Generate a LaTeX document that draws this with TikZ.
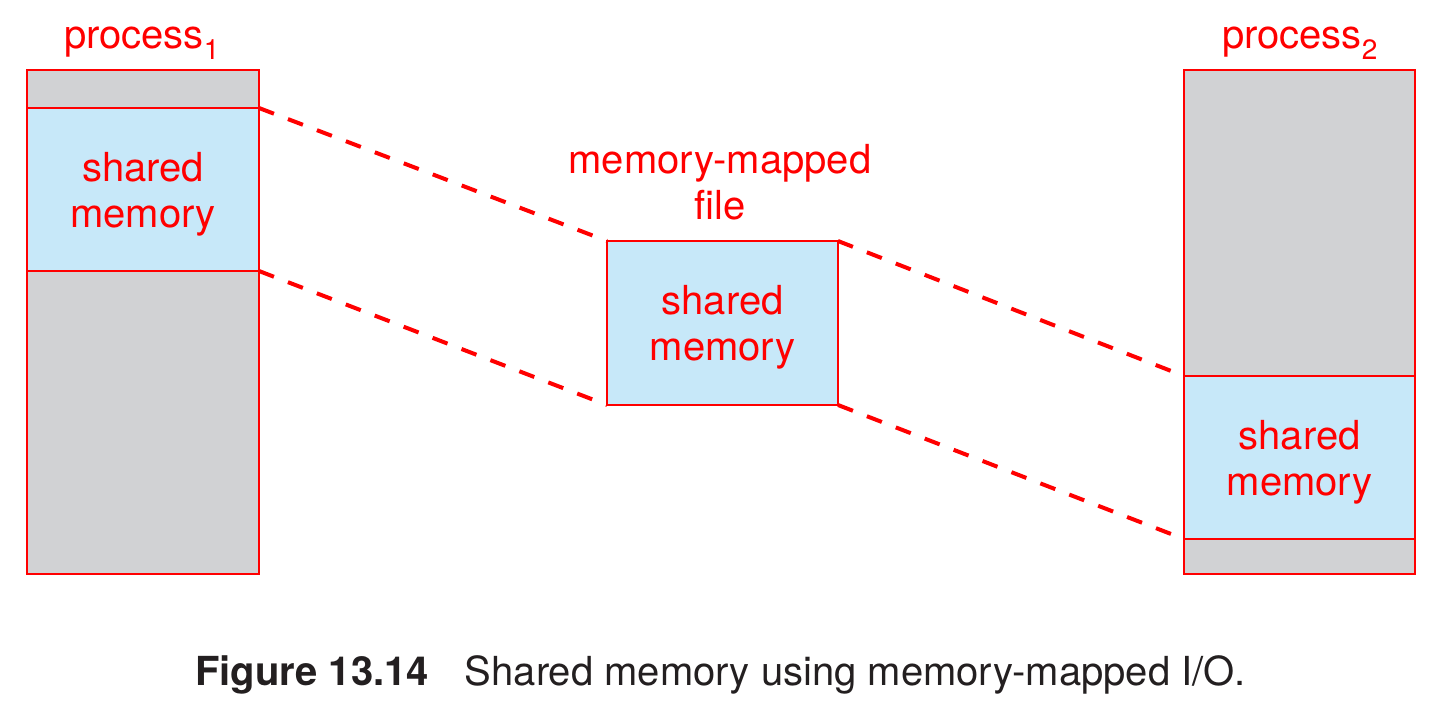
\documentclass[tikz,border=0pt]{standalone}
\usepackage{fontspec}
\setmainfont{TeX Gyre Heros}
\definecolor{figred}{HTML}{FF0000}
\definecolor{memgray}{HTML}{D1D2D4}
\definecolor{memblue}{HTML}{C7E8F9}
\definecolor{captext}{HTML}{231F20}
\begin{document}
\begin{tikzpicture}[x=1pt,y=-1pt,
  colbox/.style={draw=figred,line width=2pt,fill=memgray,inner sep=0pt,outer sep=0pt,minimum width=232pt,minimum height=504pt},
  shbox/.style={draw=figred,line width=2pt,fill=memblue,inner sep=0pt,outer sep=0pt,minimum width=232pt,minimum height=163pt},
  lbl/.style={text=figred,font=\fontsize{40}{46}\selectfont,align=center,inner sep=0pt},
  intext/.style={lbl,yshift=-4.5pt},
  link/.style={draw=figred,line width=4pt,dash pattern=on 16pt off 15pt}]
\useasboundingbox (0,0) rectangle (1436,713);
% left process
\node[colbox] (p1) at (143,322) {};
\node[shbox] (p1s) at (143,189.5) {};
\node[intext] (p1t) at (p1s.center) {shared\\memory};
\node[lbl,anchor=base] (p1l) at (142,48) {process\textsubscript{1}};
% middle file
\node[shbox,minimum width=231pt,minimum height=164pt] (mm) at (722.5,323) {};
\node[intext] (mmt) at (mm.center) {shared\\memory};
\node[lbl] (mml) at (720,182) {memory-mapped\\file};
% right process
\node[colbox,minimum width=231pt] (p2) at (1299.5,322) {};
\node[shbox,minimum width=231pt] (p2s) at (1299.5,457.5) {};
\node[intext] (p2t) at (p2s.center) {shared\\memory};
\node[lbl,anchor=base] (p2l) at (1300,48) {process\textsubscript{2}};
% dashed connectors
\draw[link] (p1s.north east) -- (mm.north west);
\draw[link] (p1s.south east) -- (mm.south west);
\draw[link] (mm.north east) -- (p2s.north west);
\draw[link] (mm.south east) -- (p2s.south west);
% caption
\node[anchor=base west,inner sep=0pt,text=captext,font=\fontsize{40}{46}\selectfont] (cap) at (195,685) {\textbf{Figure 13.14}\hspace{36pt}Shared memory using memory-mapped I/O.};
\end{tikzpicture}
\end{document}
